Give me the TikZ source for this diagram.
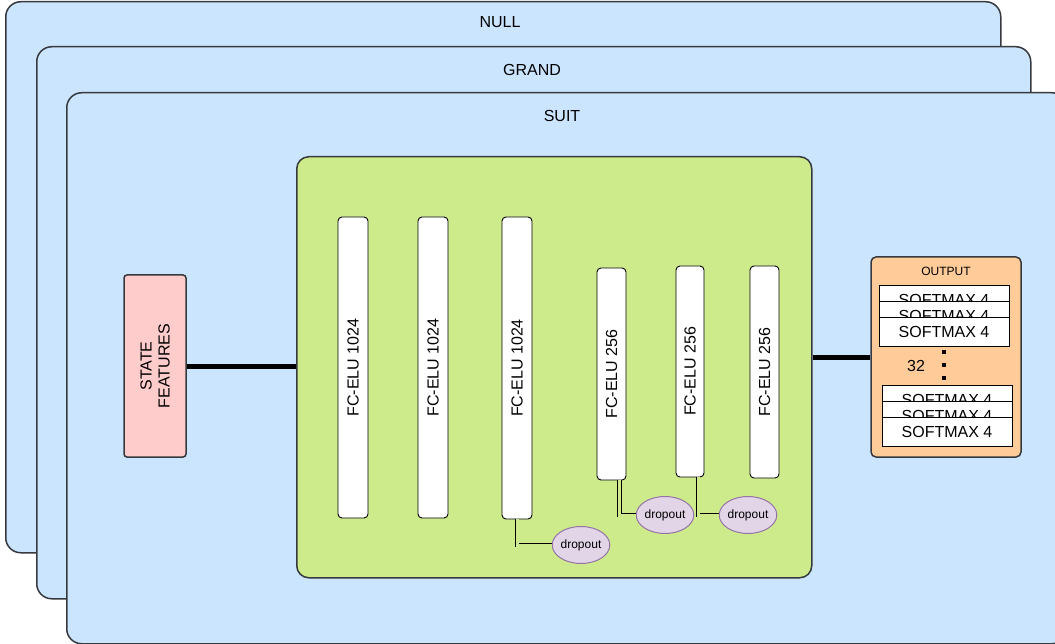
\documentclass[tikz,border=0pt]{standalone}
\usepackage{fontspec}
\setmainfont{Liberation Sans}
\usetikzlibrary{shapes.geometric,calc}
\definecolor{bluefill}{HTML}{CCE5FF}
\definecolor{darkstroke}{HTML}{36393D}
\definecolor{greenfill}{HTML}{CDEB8B}
\definecolor{pinkfill}{HTML}{FFCCCC}
\definecolor{orangefill}{HTML}{FFCC99}
\definecolor{purplefill}{HTML}{E1D5E7}
\definecolor{purplestroke}{HTML}{9673A6}
\begin{document}
\begin{tikzpicture}[x=1pt,y=-1pt,
  every node/.style={font=\fontsize{16}{18}\selectfont, inner sep=0pt},
  bigbox/.style={draw=darkstroke, fill=bluefill, line width=1.5pt, rounded corners=15pt, anchor=north west},
  netbox/.style={draw=darkstroke, fill=greenfill, line width=1.5pt, rounded corners=12pt, anchor=north west},
  bar/.style={draw=black, fill=white, line width=0.9pt, rounded corners=4pt, rotate=90},
  statebox/.style={draw=darkstroke, fill=pinkfill, line width=1.5pt, rounded corners=3pt, rotate=90, align=center},
  outbox/.style={draw=darkstroke, fill=orangefill, line width=1.5pt, rounded corners=5pt},
  smax/.style={draw=black, fill=white, line width=0.9pt, minimum width=130pt, minimum height=29pt},
  dropnode/.style={ellipse, draw=purplestroke, fill=purplefill, line width=1pt, minimum width=52pt, minimum height=37pt, font=\fontsize{12}{14}\selectfont},
  thick link/.style={line width=5pt, black},
  droplink/.style={draw=black, double=greenfill, double distance=3pt, line width=0.9pt}
]
\useasboundingbox (0,0) rectangle (1055,644);
\clip (0,0) rectangle (1055,644);

% outer stacked boxes
\node[bigbox, minimum width=995pt, minimum height=551pt] (null) at (5,1) {};
\node (nulltitle) at (500,22) {NULL};
\node[bigbox, minimum width=994pt, minimum height=552pt] (grand) at (36,46) {};
\node (grandtitle) at (532,70) {GRAND};
\node[bigbox, minimum width=1000pt, minimum height=551pt] (suit) at (66,92) {};
\node (suittitle) at (562,116) {SUIT};

% network box
\node[netbox, minimum width=515pt, minimum height=421pt] (net) at (296,156) {};

% state features
\node[statebox, minimum width=182pt, minimum height=62pt] (state) at (155,366) {STATE\\FEATURES};

% layers
\node[bar, minimum width=301pt, minimum height=30pt] (b1) at (353,367.5) {FC-ELU 1024};
\node[bar, minimum width=301pt, minimum height=30pt] (b2) at (433,367.5) {FC-ELU 1024};
\node[bar, minimum width=302pt, minimum height=30pt] (b3) at (517,368) {FC-ELU 1024};
\node[bar, minimum width=212pt, minimum height=29pt] (b4) at (611.5,374) {FC-ELU 256};
\node[bar, minimum width=211pt, minimum height=28pt] (b5) at (690,371.5) {FC-ELU 256};
\node[bar, minimum width=212pt, minimum height=29pt] (b6) at (764.5,372) {FC-ELU 256};

% dropouts
\node[dropnode] (d1) at (581,545) {dropout};
\node[dropnode] (d2) at (665,515) {dropout};
\node[dropnode] (d3) at (748,515) {dropout};

\draw[droplink] (b3.west) |- (d1.west);
\draw[droplink] ([xshift=8pt]b4.west) |- (d2.west);
\draw[droplink] ([xshift=8pt]b5.west) |- (d3.west);

% output
\node[outbox, minimum width=150pt, minimum height=200pt] (out) at (946,357) {};
\node[font=\fontsize{12}{14}\selectfont] (outtitle) at (946,271) {OUTPUT};
\node[smax] (s1a) at (944,299.5) {SOFTMAX 4};
\node[smax] (s1b) at (944,315.5) {SOFTMAX 4};
\node[smax] (s1c) at (944,331.5) {SOFTMAX 4};
\node[smax] (s2a) at (947,399.5) {SOFTMAX 4};
\node[smax] (s2b) at (947,415.5) {SOFTMAX 4};
\node[smax] (s2c) at (947,431.5) {SOFTMAX 4};
\node (count) at (916,366) {32};
\fill[black] (942,350) rectangle (946,354);
\fill[black] (942,363) rectangle (946,367);
\fill[black] (942,376) rectangle (946,380);

% main links
\draw[thick link] (state.south) -- (state.south -| net.west);
\draw[thick link] (net.east |- out.west) -- (out.west);
\end{tikzpicture}
\end{document}
